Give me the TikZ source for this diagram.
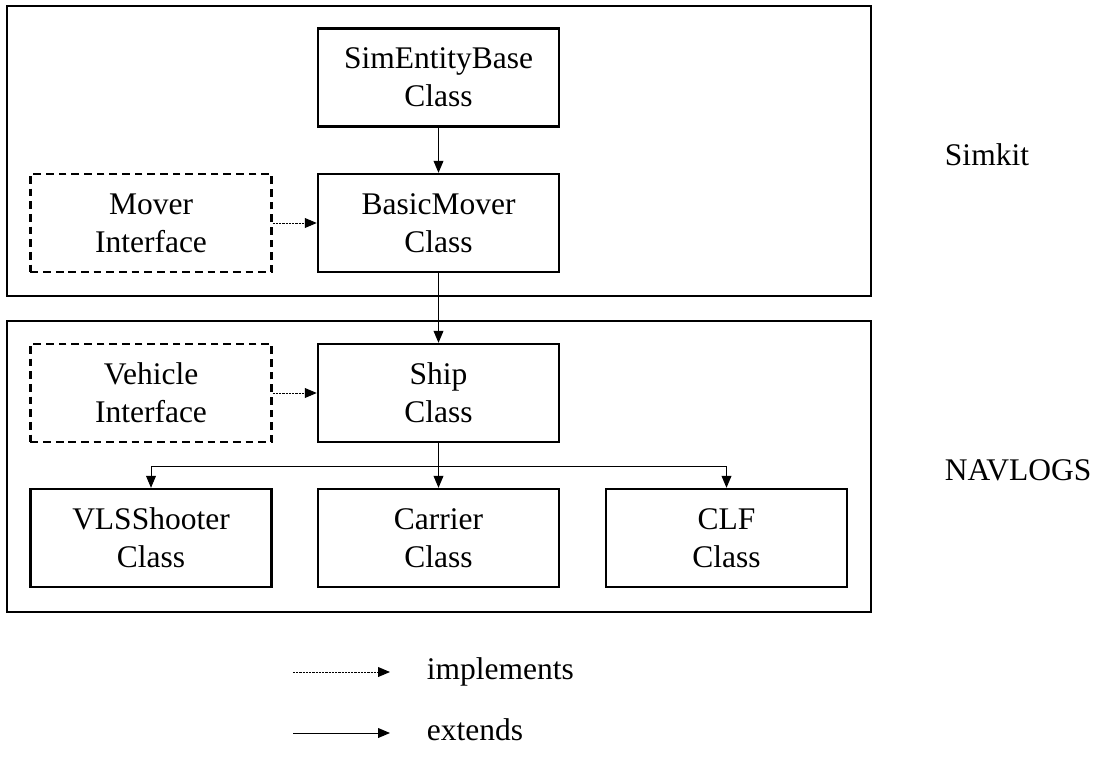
\documentclass[tikz,border=0pt]{standalone}
\usepackage{fontspec}
\setmainfont{Liberation Serif}
\usetikzlibrary{arrows.meta,positioning}

\newcommand{\classfont}{\fontsize{22.4}{27}\selectfont}

\tikzset{
    classbox/.style={draw, line width=1.7pt, minimum width=6.025cm,
        minimum height=2.45cm, align=center, font=\classfont},
    ifacebox/.style={classbox, dash pattern=on 5.5pt off 3.5pt},
    pkgbox/.style={draw, line width=1.6pt, minimum width=21.6cm},
    extends/.style={line width=0.7pt, -{Triangle[length=8.5pt,width=7pt]}},
    implements/.style={extends, dash pattern=on 1.6pt off 0.7pt},
}

\begin{document}
\begin{tikzpicture}[x=0.025cm,y=-0.025cm]
    \useasboundingbox (0,0) rectangle (1096,756);
    % packages
    \node[pkgbox, minimum height=7.25cm] (simkit) at (439,151) {};
    \node[pkgbox, minimum height=7.275cm] (navlogs) at (439,466.5) {};
    \node[anchor=west, font=\classfont] (simkitlbl) at (940,155) {Simkit};
    \node[anchor=west, font=\classfont] (navlogslbl) at (940,470) {NAVLOGS};
    % classes
    \node[classbox] (seb) at (438.5,77.5) {SimEntityBase\\Class};
    \node[classbox] (bm) at (438.5,223) {BasicMover\\Class};
    \node[ifacebox] (mover) at (151,223) {Mover\\Interface};
    \node[classbox] (ship) at (438.5,393) {Ship\\Class};
    \node[ifacebox] (vehicle) at (151,393) {Vehicle\\Interface};
    \node[classbox] (vls) at (151,538) {VLSShooter\\Class};
    \node[classbox] (carrier) at (438.5,538) {Carrier\\Class};
    \node[classbox] (clf) at (726.5,538) {CLF\\Class};
    % connectors
    \draw[extends] (seb) -- (bm);
    \draw[implements] (mover) -- (bm);
    \draw[extends] (bm) -- (ship);
    \draw[implements] (vehicle) -- (ship);
    \coordinate (fork) at (438.5,466);
    \draw[extends] (ship) -- (carrier);
    \draw[extends] (fork) -| (vls.north);
    \draw[extends] (fork) -| (clf.north);
    % legend
    \coordinate (impla) at (293,672);
    \coordinate (implb) at (390,672);
    \coordinate (exta) at (293,733);
    \coordinate (extb) at (390,733);
    \draw[implements] (impla) -- (implb);
    \draw[extends] (exta) -- (extb);
    \node[anchor=base west, font=\classfont] (impllbl) at (422,679) {implements};
    \node[anchor=base west, font=\classfont] (extlbl) at (422,740) {extends};
\end{tikzpicture}
\end{document}
